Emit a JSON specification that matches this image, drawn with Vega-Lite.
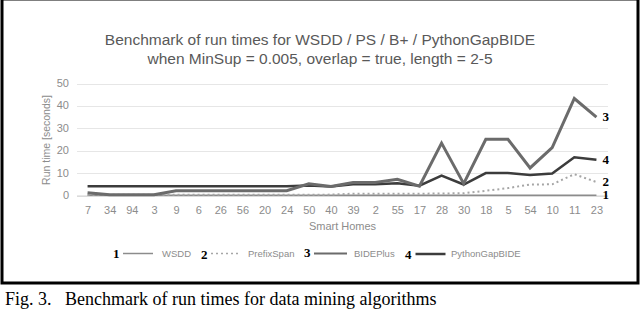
{
  "$schema": "https://vega.github.io/schema/vega-lite/v6.json",
  "padding": {"left": 0, "top": -3, "right": 0, "bottom": 0},
  "background": "white",
  "config": {
    "view": {"stroke": "black", "strokeWidth": 3},
    "font": "Liberation Sans"
  },
  "title": {
    "text": "Fig.\u00a03.\u00a0\u00a0\u00a0Benchmark of run times for data mining algorithms",
    "orient": "bottom", "anchor": "start", "frame": "group",
    "font": "Liberation Serif", "fontSize": 18, "fontWeight": "normal",
    "color": "black", "offset": 6, "dx": 3
  },
  "datasets": {
    "runs": [
      {"home": "7", "series": "WSDD", "num": "1", "time": 0.1},
      {"home": "34", "series": "WSDD", "num": "1", "time": 0.1},
      {"home": "94", "series": "WSDD", "num": "1", "time": 0.1},
      {"home": "3", "series": "WSDD", "num": "1", "time": 0.1},
      {"home": "9", "series": "WSDD", "num": "1", "time": 0.1},
      {"home": "6", "series": "WSDD", "num": "1", "time": 0.1},
      {"home": "26", "series": "WSDD", "num": "1", "time": 0.1},
      {"home": "56", "series": "WSDD", "num": "1", "time": 0.1},
      {"home": "20", "series": "WSDD", "num": "1", "time": 0.1},
      {"home": "24", "series": "WSDD", "num": "1", "time": 0.1},
      {"home": "50", "series": "WSDD", "num": "1", "time": 0.1},
      {"home": "40", "series": "WSDD", "num": "1", "time": 0.1},
      {"home": "39", "series": "WSDD", "num": "1", "time": 0.1},
      {"home": "2", "series": "WSDD", "num": "1", "time": 0.1},
      {"home": "55", "series": "WSDD", "num": "1", "time": 0.1},
      {"home": "17", "series": "WSDD", "num": "1", "time": 0.1},
      {"home": "28", "series": "WSDD", "num": "1", "time": 0.1},
      {"home": "30", "series": "WSDD", "num": "1", "time": 0.1},
      {"home": "18", "series": "WSDD", "num": "1", "time": 0.1},
      {"home": "5", "series": "WSDD", "num": "1", "time": 0.1},
      {"home": "54", "series": "WSDD", "num": "1", "time": 0.1},
      {"home": "10", "series": "WSDD", "num": "1", "time": 0.1},
      {"home": "11", "series": "WSDD", "num": "1", "time": 0.1},
      {"home": "23", "series": "WSDD", "num": "1", "time": 0.1},
      {"home": "7", "series": "PrefixSpan", "num": "2", "time": 0.3},
      {"home": "34", "series": "PrefixSpan", "num": "2", "time": 0.3},
      {"home": "94", "series": "PrefixSpan", "num": "2", "time": 0.3},
      {"home": "3", "series": "PrefixSpan", "num": "2", "time": 0.3},
      {"home": "9", "series": "PrefixSpan", "num": "2", "time": 0.3},
      {"home": "6", "series": "PrefixSpan", "num": "2", "time": 0.3},
      {"home": "26", "series": "PrefixSpan", "num": "2", "time": 0.3},
      {"home": "56", "series": "PrefixSpan", "num": "2", "time": 0.3},
      {"home": "20", "series": "PrefixSpan", "num": "2", "time": 0.3},
      {"home": "24", "series": "PrefixSpan", "num": "2", "time": 0.3},
      {"home": "50", "series": "PrefixSpan", "num": "2", "time": 0.3},
      {"home": "40", "series": "PrefixSpan", "num": "2", "time": 0.4},
      {"home": "39", "series": "PrefixSpan", "num": "2", "time": 0.8},
      {"home": "2", "series": "PrefixSpan", "num": "2", "time": 0.8},
      {"home": "55", "series": "PrefixSpan", "num": "2", "time": 0.8},
      {"home": "17", "series": "PrefixSpan", "num": "2", "time": 0.8},
      {"home": "28", "series": "PrefixSpan", "num": "2", "time": 0.9},
      {"home": "30", "series": "PrefixSpan", "num": "2", "time": 1.0},
      {"home": "18", "series": "PrefixSpan", "num": "2", "time": 2.1},
      {"home": "5", "series": "PrefixSpan", "num": "2", "time": 3.3},
      {"home": "54", "series": "PrefixSpan", "num": "2", "time": 4.9},
      {"home": "10", "series": "PrefixSpan", "num": "2", "time": 5.0},
      {"home": "11", "series": "PrefixSpan", "num": "2", "time": 9.5},
      {"home": "23", "series": "PrefixSpan", "num": "2", "time": 6.0},
      {"home": "7", "series": "BIDEPlus", "num": "3", "time": 1.2},
      {"home": "34", "series": "BIDEPlus", "num": "3", "time": 0.3},
      {"home": "94", "series": "BIDEPlus", "num": "3", "time": 0.3},
      {"home": "3", "series": "BIDEPlus", "num": "3", "time": 0.3},
      {"home": "9", "series": "BIDEPlus", "num": "3", "time": 2.1},
      {"home": "6", "series": "BIDEPlus", "num": "3", "time": 2.1},
      {"home": "26", "series": "BIDEPlus", "num": "3", "time": 2.1},
      {"home": "56", "series": "BIDEPlus", "num": "3", "time": 2.1},
      {"home": "20", "series": "BIDEPlus", "num": "3", "time": 2.1},
      {"home": "24", "series": "BIDEPlus", "num": "3", "time": 2.1},
      {"home": "50", "series": "BIDEPlus", "num": "3", "time": 5.2},
      {"home": "40", "series": "BIDEPlus", "num": "3", "time": 4.0},
      {"home": "39", "series": "BIDEPlus", "num": "3", "time": 5.8},
      {"home": "2", "series": "BIDEPlus", "num": "3", "time": 5.8},
      {"home": "55", "series": "BIDEPlus", "num": "3", "time": 7.2},
      {"home": "17", "series": "BIDEPlus", "num": "3", "time": 4.2},
      {"home": "28", "series": "BIDEPlus", "num": "3", "time": 23.4},
      {"home": "30", "series": "BIDEPlus", "num": "3", "time": 5.3},
      {"home": "18", "series": "BIDEPlus", "num": "3", "time": 25.1},
      {"home": "5", "series": "BIDEPlus", "num": "3", "time": 25.1},
      {"home": "54", "series": "BIDEPlus", "num": "3", "time": 12.3},
      {"home": "10", "series": "BIDEPlus", "num": "3", "time": 21.4},
      {"home": "11", "series": "BIDEPlus", "num": "3", "time": 43.3},
      {"home": "23", "series": "BIDEPlus", "num": "3", "time": 35.0},
      {"home": "7", "series": "PythonGapBIDE", "num": "4", "time": 4.1},
      {"home": "34", "series": "PythonGapBIDE", "num": "4", "time": 4.1},
      {"home": "94", "series": "PythonGapBIDE", "num": "4", "time": 4.1},
      {"home": "3", "series": "PythonGapBIDE", "num": "4", "time": 4.1},
      {"home": "9", "series": "PythonGapBIDE", "num": "4", "time": 4.1},
      {"home": "6", "series": "PythonGapBIDE", "num": "4", "time": 4.1},
      {"home": "26", "series": "PythonGapBIDE", "num": "4", "time": 4.1},
      {"home": "56", "series": "PythonGapBIDE", "num": "4", "time": 4.1},
      {"home": "20", "series": "PythonGapBIDE", "num": "4", "time": 4.1},
      {"home": "24", "series": "PythonGapBIDE", "num": "4", "time": 4.1},
      {"home": "50", "series": "PythonGapBIDE", "num": "4", "time": 4.5},
      {"home": "40", "series": "PythonGapBIDE", "num": "4", "time": 4.0},
      {"home": "39", "series": "PythonGapBIDE", "num": "4", "time": 5.0},
      {"home": "2", "series": "PythonGapBIDE", "num": "4", "time": 5.0},
      {"home": "55", "series": "PythonGapBIDE", "num": "4", "time": 5.5},
      {"home": "17", "series": "PythonGapBIDE", "num": "4", "time": 4.4},
      {"home": "28", "series": "PythonGapBIDE", "num": "4", "time": 8.9},
      {"home": "30", "series": "PythonGapBIDE", "num": "4", "time": 4.9},
      {"home": "18", "series": "PythonGapBIDE", "num": "4", "time": 10.0},
      {"home": "5", "series": "PythonGapBIDE", "num": "4", "time": 10.0},
      {"home": "54", "series": "PythonGapBIDE", "num": "4", "time": 9.2},
      {"home": "10", "series": "PythonGapBIDE", "num": "4", "time": 9.8},
      {"home": "11", "series": "PythonGapBIDE", "num": "4", "time": 17.1},
      {"home": "23", "series": "PythonGapBIDE", "num": "4", "time": 16.0}
    ]
  },
  "vconcat": [
    {
      "width": 636,
      "height": 284,
      "title": {
        "text": ["Benchmark of run times for WSDD / PS / B+ / PythonGapBIDE", "when MinSup = 0.005, overlap = true, length = 2-5"],
        "anchor": "middle", "font": "Liberation Sans", "fontSize": 15.5, "fontWeight": "normal",
        "color": "#595959", "lineHeight": 19, "offset": -68
      },
      "data": {"name": "runs"},
      "encoding": {
        "x": {
          "field": "home", "type": "ordinal",
          "sort": ["7","34","94","3","9","6","26","56","20","24","50","40","39","2","55","17","28","30","18","5","54","10","11","23"],
          "scale": {"type": "point", "domain": ["7","34","94","3","9","6","26","56","20","24","50","40","39","2","55","17","28","30","18","5","54","10","11","23"], "range": [74.5, 605.5], "padding": 0.5},
          "axis": {
            "title": "Smart Homes", "orient": "bottom", "offset": -87.5, "ticks": false,
            "domainColor": "#d0d0d0", "domainWidth": 1, "grid": false,
            "labelColor": "#8c8c8c", "labelFontSize": 11, "labelPadding": 9, "labelAngle": 0,
            "titleColor": "#8c8c8c", "titleFontSize": 11, "titleFontWeight": "normal", "titlePadding": 5
          }
        },
        "y": {
          "field": "time", "type": "quantitative",
          "scale": {"domain": [0, 50], "range": [196.5, 84.5], "nice": false},
          "axis": {
            "title": "Run time [seconds]", "orient": "left", "offset": -70.5,
            "values": [0, 10, 20, 30, 40, 50], "ticks": false, "domain": false,
            "grid": true, "gridColor": "#e6e6e6", "gridWidth": 1,
            "labelColor": "#8c8c8c", "labelFontSize": 11, "labelPadding": 4,
            "titleColor": "#8c8c8c", "titleFontSize": 10.5, "titleFontWeight": "normal", "titlePadding": 5
          }
        }
      },
      "layer": [
        {
          "transform": [{"filter": "datum.series === 'WSDD'"}],
          "mark": {"type": "line", "strokeWidth": 1.5},
          "encoding": {
            "color": {"field": "series", "type": "nominal",
              "scale": {"domain": ["WSDD"], "range": ["#8c8c8c"]},
              "legend": {"title": "1", "orient": "none", "legendX": 111, "legendY": 238.5,
                "titleOrient": "left", "titleBaseline": "top", "titleFont": "Liberation Serif", "titleFontSize": 13, "titleFontWeight": "bold", "titleColor": "black", "titlePadding": 2,
                "symbolType": "stroke", "symbolSize": 900, "symbolStrokeWidth": 1.5,
                "labelColor": "#8c8c8c", "labelFontSize": 9.5, "labelOffset": 8}}
          }
        },
        {
          "transform": [{"filter": "datum.series === 'PrefixSpan'"}],
          "mark": {"type": "line", "strokeWidth": 2, "strokeDash": [2, 3]},
          "encoding": {
            "color": {"field": "series", "type": "nominal",
              "scale": {"domain": ["PrefixSpan"], "range": ["#a6a6a6"]},
              "legend": {"title": "2", "orient": "none", "legendX": 199, "legendY": 240,
                "titleOrient": "left", "titleBaseline": "top", "titleFont": "Liberation Serif", "titleFontSize": 13, "titleFontWeight": "bold", "titleColor": "black", "titlePadding": 2,
                "symbolType": "stroke", "symbolSize": 729, "symbolStrokeWidth": 1.5, "symbolDash": [2, 3],
                "labelColor": "#8c8c8c", "labelFontSize": 9.5, "labelOffset": 9}}
          }
        },
        {
          "transform": [{"filter": "datum.series === 'PythonGapBIDE'"}],
          "mark": {"type": "line", "strokeWidth": 2.5},
          "encoding": {
            "color": {"field": "series", "type": "nominal",
              "scale": {"domain": ["PythonGapBIDE"], "range": ["#3c3c3c"]},
              "legend": {"title": "4", "orient": "none", "legendX": 403, "legendY": 238.5,
                "titleOrient": "left", "titleBaseline": "top", "titleFont": "Liberation Serif", "titleFontSize": 13, "titleFontWeight": "bold", "titleColor": "black", "titlePadding": 2,
                "symbolType": "stroke", "symbolSize": 900, "symbolStrokeWidth": 2.5,
                "labelColor": "#8c8c8c", "labelFontSize": 9.5, "labelOffset": 4}}
          }
        },
        {
          "transform": [{"filter": "datum.series === 'BIDEPlus'"}],
          "mark": {"type": "line", "strokeWidth": 3},
          "encoding": {
            "color": {"field": "series", "type": "nominal",
              "scale": {"domain": ["BIDEPlus"], "range": ["#6b6b6b"]},
              "legend": {"title": "3", "orient": "none", "legendX": 302, "legendY": 237,
                "titleOrient": "left", "titleBaseline": "top", "titleFont": "Liberation Serif", "titleFontSize": 13, "titleFontWeight": "bold", "titleColor": "black", "titlePadding": 2,
                "symbolType": "stroke", "symbolSize": 1089, "symbolStrokeWidth": 2,
                "labelColor": "#8c8c8c", "labelFontSize": 9.5, "labelOffset": 6}}
          }
        },
        {
          "transform": [{"filter": "datum.home === '23'"}],
          "mark": {"type": "text", "align": "left", "baseline": "middle", "dx": 6, "font": "Liberation Serif", "fontSize": 13, "fontWeight": "bold", "color": "black"},
          "encoding": {"text": {"field": "num", "type": "nominal"}}
        }
      ],
      "resolve": {"scale": {"color": "independent"}, "legend": {"color": "independent"}}
    }
  ]
}
